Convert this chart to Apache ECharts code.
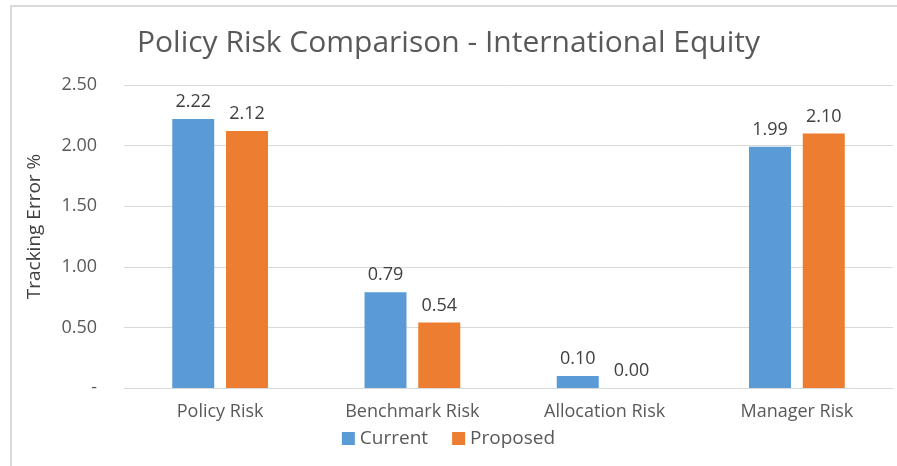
<!DOCTYPE html>
<html>
<head>
<meta charset="utf-8">
<script src="https://cdn.jsdelivr.net/npm/echarts@6/dist/echarts.min.js"></script>
<style>
  html, body { margin: 0; padding: 0; background: #fff; }
  #frame { position: absolute; left: 10px; top: 5px; width: 897px; height: 470px; border: 2px solid #d9d9d9; box-sizing: border-box; }
  #chart { width: 897px; height: 466px; position: absolute; left: 0; top: 0; }
</style>
</head>
<body>
<div id="frame"></div>
<div id="chart"></div>
<script>
const categories = ['Policy Risk', 'Benchmark Risk', 'Allocation Risk', 'Manager Risk'];
const currentValues = [2.22, 0.79, 0.10, 1.99];
const proposedValues = [2.12, 0.54, 0.00, 2.10];
const seriesNames = ['Current', 'Proposed'];

const font = '"Open Sans", "Noto Sans", sans-serif';
const chart = echarts.init(document.getElementById('chart'));

const labelCfg = {
  show: true,
  position: 'top',
  distance: 8,
  color: '#404040',
  fontSize: 18,
  fontFamily: font,
  formatter: p => p.value.toFixed(2)
};

chart.setOption({
  animation: false,
  title: {
    text: 'Policy Risk Comparison - International Equity',
    left: 'center',
    top: 23,
    textStyle: { color: '#595959', fontSize: 30, fontWeight: 'normal', fontFamily: font }
  },
  legend: {
    data: seriesNames,
    bottom: 13,
    left: 'center',
    itemWidth: 13,
    itemHeight: 13,
    itemGap: 24,
    icon: 'rect',
    textStyle: { color: '#595959', fontSize: 19, fontFamily: font }
  },
  grid: { left: 124, right: 4, top: 85, bottom: 78 },
  xAxis: {
    type: 'category',
    data: categories,
    axisLine: { lineStyle: { color: '#d9d9d9' } },
    axisTick: { show: false },
    axisLabel: { color: '#595959', fontSize: 18, fontFamily: font, margin: 15 }
  },
  yAxis: {
    type: 'value',
    min: 0,
    max: 2.5,
    interval: 0.5,
    name: 'Tracking Error %',
    nameLocation: 'middle',
    nameGap: 80,
    nameTextStyle: { color: '#404040', fontSize: 19, fontFamily: font, padding: [0, 0, 0, 20] },
    axisLine: { show: false },
    axisTick: { show: false },
    splitLine: { lineStyle: { color: '#d9d9d9' } },
    axisLabel: {
      color: '#595959', fontSize: 18, fontFamily: font, margin: 27,
      formatter: v => v === 0 ? '-' : v.toFixed(2)
    }
  },
  series: [
    {
      name: seriesNames[0], type: 'bar', data: currentValues,
      barWidth: 42, barGap: '28%',
      itemStyle: { color: '#5b9bd5' },
      label: labelCfg
    },
    {
      name: seriesNames[1], type: 'bar', data: proposedValues,
      barWidth: 42, barGap: '28%',
      itemStyle: { color: '#ed7d31' },
      label: labelCfg
    }
  ]
});
</script>
</body>
</html>
